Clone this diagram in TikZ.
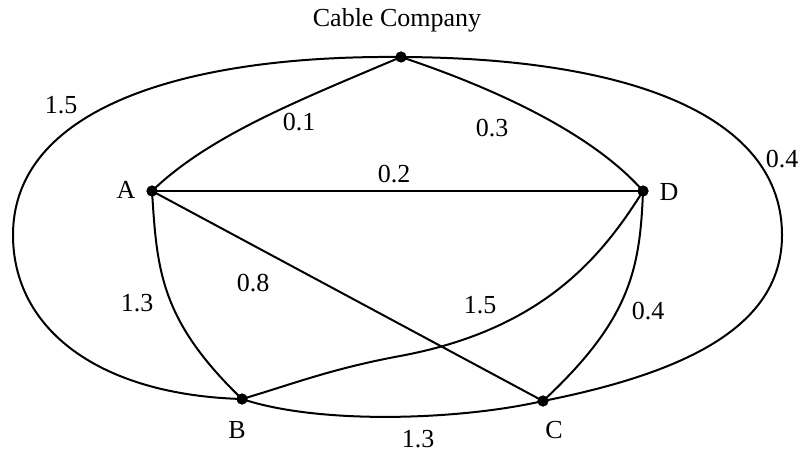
\documentclass[tikz,border=0pt]{standalone}
\usepackage{fontspec}
\setmainfont{Liberation Serif}
\begin{document}
\begin{tikzpicture}[x=1pt,y=-1pt,
  vertex/.style={circle,fill=black,inner sep=0pt,minimum size=11pt},
  edge/.style={line width=2pt},
  lbl/.style={anchor=base,inner sep=0pt,font=\fontsize{26pt}{30pt}\selectfont}]
\useasboundingbox (0,0) rectangle (805,452);
% vertices
\node[vertex] (T) at (401,57) {};
\node[vertex] (A) at (152,191) {};
\node[vertex] (D) at (643,191) {};
\node[vertex] (B) at (242,399) {};
\node[vertex] (C) at (543,401) {};
\coordinate (L) at (13,235);
\coordinate (R) at (782,235);
\coordinate (M) at (400,356);
% edges
\draw[edge] (T.center) .. controls (180,55) and (13,110) .. (L)
  .. controls (13,330) and (100,395) .. (B.center);
\draw[edge] (T.center) .. controls (640,58) and (782,120) .. (R)
  .. controls (782,320) and (700,370) .. (C.center);
\draw[edge] (B.center) .. controls (320,425) and (460,420) .. (C.center);
\draw[edge] (A.center) .. controls (210,135) and (300,100) .. (T.center);
\draw[edge] (T.center) .. controls (470,80) and (585,125) .. (D.center);
\draw[edge] (A.center) -- (D.center);
\draw[edge] (A.center) -- (C.center);
\draw[edge] (A.center) .. controls (157,270) and (160,320) .. (B.center);
\draw[edge] (D.center) .. controls (640,270) and (630,320) .. (C.center);
\draw[edge] (D.center) .. controls (600,260) and (540,330) .. (M)
  .. controls (330,369) and (290,385) .. (B.center);
% labels
\node[lbl] (tcc) at (397,27) {Cable Company};
\node[lbl] (l15a) at (61,113) {1.5};
\node[lbl] (l01) at (299,130) {0.1};
\node[lbl] (l03) at (492,136) {0.3};
\node[lbl] (l02) at (394,182) {0.2};
\node[lbl] (l04a) at (782,167) {0.4};
\node[lbl] (tA) at (126,198) {A};
\node[lbl] (tD) at (669,200) {D};
\node[lbl] (l13a) at (137,311) {1.3};
\node[lbl] (l08) at (253,291) {0.8};
\node[lbl] (tB) at (237,438) {B};
\node[lbl] (l13b) at (418,447) {1.3};
\node[lbl] (l15b) at (480,313) {1.5};
\node[lbl] (l04b) at (648,319) {0.4};
\node[lbl] (tC) at (554,438) {C};
% redraw dots on top
\foreach \v in {T,A,D,B,C} \fill (\v) circle (5.5pt);
\end{tikzpicture}
\end{document}
